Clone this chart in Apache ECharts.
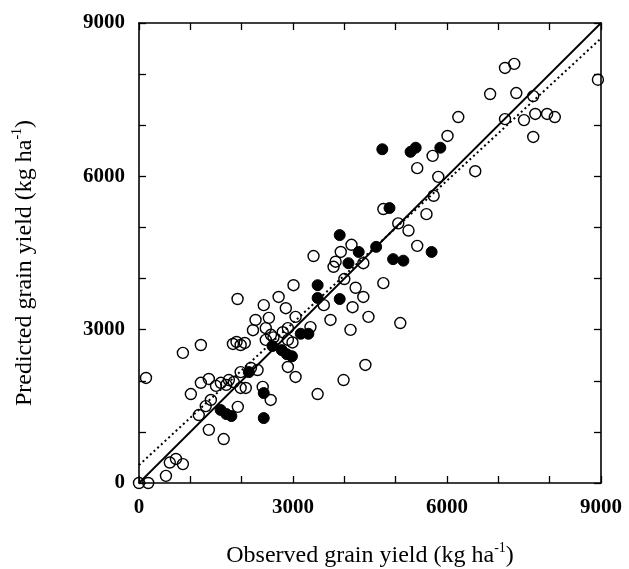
<!DOCTYPE html>
<html>
<head>
<meta charset="utf-8">
<script src="https://cdn.jsdelivr.net/npm/echarts@6/dist/echarts.min.js"></script>
<style>
  html, body { margin: 0; padding: 0; background: #fff; }
  #chart { width: 629px; height: 569px; }
</style>
</head>
<body>
<div id="chart"></div>
<script>
// observed vs predicted grain yield (kg/ha), open = one site group, filled = other
var openPoints = [
  [0, 0], [180, 0], [136, 2055], [525, 140], [600, 400], [720, 470], [855, 370],
  [855, 2545], [1205, 2700], [1010, 1740], [1205, 1960], [1360, 2035], [1400, 1625],
  [1300, 1505], [1165, 1330], [1360, 1040], [1650, 860],
  [1500, 1900], [1595, 1960], [1700, 1920], [1750, 2015], [1845, 1975], [1980, 1860],
  [2080, 1860], [2410, 1880], [2565, 1625], [1925, 1490],
  [2180, 2250], [2310, 2210], [1980, 2170], [2900, 2270], [3050, 2075], [3480, 1740],
  [3985, 2015], [4410, 2310], [4120, 2995], [3730, 3190],
  [1920, 3600], [2430, 3480], [2720, 3640], [3010, 3870], [2860, 3420], [3050, 3250],
  [2270, 3190], [2530, 3230], [2220, 2990], [2470, 3030], [2570, 2900], [2800, 2950],
  [2900, 3030], [3340, 3050],
  [1830, 2720], [1900, 2760], [1980, 2700], [2060, 2740],
  [2470, 2800], [2620, 2850], [2900, 2800], [2990, 2750],
  [3400, 4440], [3790, 4230], [3830, 4330], [4140, 4660], [3930, 4520], [4370, 4300],
  [4000, 3990], [4220, 3820], [4370, 3640], [4160, 3440], [4470, 3250], [4760, 3910],
  [5090, 3130], [3600, 3480],
  [4760, 5360], [5050, 5080], [5250, 4940], [5420, 4640], [5600, 5260], [5740, 5620],
  [5830, 5990], [5420, 6160], [5720, 6400], [6010, 6790], [6550, 6100],
  [7130, 8120], [7310, 8200], [6840, 7610], [7350, 7630], [7680, 7570], [6220, 7160],
  [7130, 7120], [7500, 7100], [7720, 7220], [7950, 7220], [8100, 7160], [7680, 6770],
  [8940, 7890]
];
var filledPoints = [
  [1590, 1430], [1700, 1350], [1800, 1310], [2430, 1270], [2430, 1760], [2140, 2170],
  [2600, 2680], [2780, 2600], [2880, 2520], [2980, 2480],
  [3150, 2920], [3300, 2920],
  [3480, 3870], [3480, 3620], [3910, 3600], [3910, 4850], [4080, 4300], [4280, 4520],
  [4620, 4620], [4950, 4380], [5150, 4350], [5700, 4520], [4880, 5380],
  [4740, 6530], [5290, 6480], [5390, 6560], [5870, 6560]
];
var oneToOne = [[0, 0], [9000, 9000]];
var regression = [[0, 350], [9000, 8700]];
var tickLabels = ['0', '3000', '6000', '9000'];

var chart = echarts.init(document.getElementById('chart'));

var serif = '"Liberation Serif", "Times New Roman", serif';
var titleRich = {
  a: { fontFamily: serif, fontSize: 24, color: '#000', lineHeight: 27, verticalAlign: 'bottom' },
  s: { fontFamily: serif, fontSize: 14, color: '#000', lineHeight: 27, verticalAlign: 'top' }
};

function labelFmt(v) {
  return tickLabels.indexOf(String(v)) >= 0 ? String(v) : '';
}

var frameAxis = {
  min: 0,
  max: 9000,
  interval: 1000,
  axisLine: { show: true, onZero: false, lineStyle: { color: '#000', width: 1.6 } },
  axisTick: { show: true, inside: true, length: 7, lineStyle: { color: '#000', width: 1.3 } },
  splitLine: { show: false }
};

var option = {
  animation: false,
  backgroundColor: '#fff',
  grid: { left: 139, right: 28, top: 23, bottom: 86, containLabel: false, outerBoundsMode: 'none' },
  xAxis: [
    Object.assign({}, frameAxis, {
      type: 'value',
      position: 'bottom',
      name: '{a|Observed grain yield (kg ha}{s|-1}{a|)}',
      nameLocation: 'middle',
      nameGap: 58,
      nameTextStyle: { rich: titleRich },
      axisLabel: {
        margin: 14, formatter: labelFmt, showMinLabel: true, showMaxLabel: true,
        fontFamily: serif, fontWeight: 'bold', fontSize: 21, color: '#000'
      }
    }),
    Object.assign({}, frameAxis, { type: 'value', position: 'top', axisLabel: { show: false } })
  ],
  yAxis: [
    Object.assign({}, frameAxis, {
      type: 'value',
      position: 'left',
      name: '{a|Predicted grain yield (kg ha}{s|-1}{a|)}',
      nameLocation: 'middle',
      nameGap: 102,
      nameRotate: 90,
      nameTextStyle: { rich: titleRich, padding: [0, 20, 0, 0] },
      axisLabel: {
        margin: 14, formatter: labelFmt,
        fontFamily: serif, fontWeight: 'bold', fontSize: 21, color: '#000'
      }
    }),
    Object.assign({}, frameAxis, { type: 'value', position: 'right', axisLabel: { show: false } })
  ],
  series: [
    {
      type: 'line',
      data: oneToOne,
      symbol: 'none',
      lineStyle: { color: '#000', width: 1.8 },
      z: 3
    },
    {
      type: 'line',
      data: regression,
      symbol: 'none',
      lineStyle: { color: '#000', width: 2, type: [2, 3] },
      z: 3
    },
    {
      type: 'scatter',
      data: openPoints,
      symbol: 'circle',
      symbolSize: 11,
      clip: false,
      itemStyle: { color: 'rgba(255,255,255,0)', borderColor: '#000', borderWidth: 1.4, opacity: 1 },
      z: 4
    },
    {
      type: 'scatter',
      data: filledPoints,
      symbol: 'circle',
      symbolSize: 11,
      itemStyle: { color: '#000', borderColor: '#000', borderWidth: 1, opacity: 1 },
      z: 5
    }
  ]
};
chart.setOption(option);
</script>
</body>
</html>
